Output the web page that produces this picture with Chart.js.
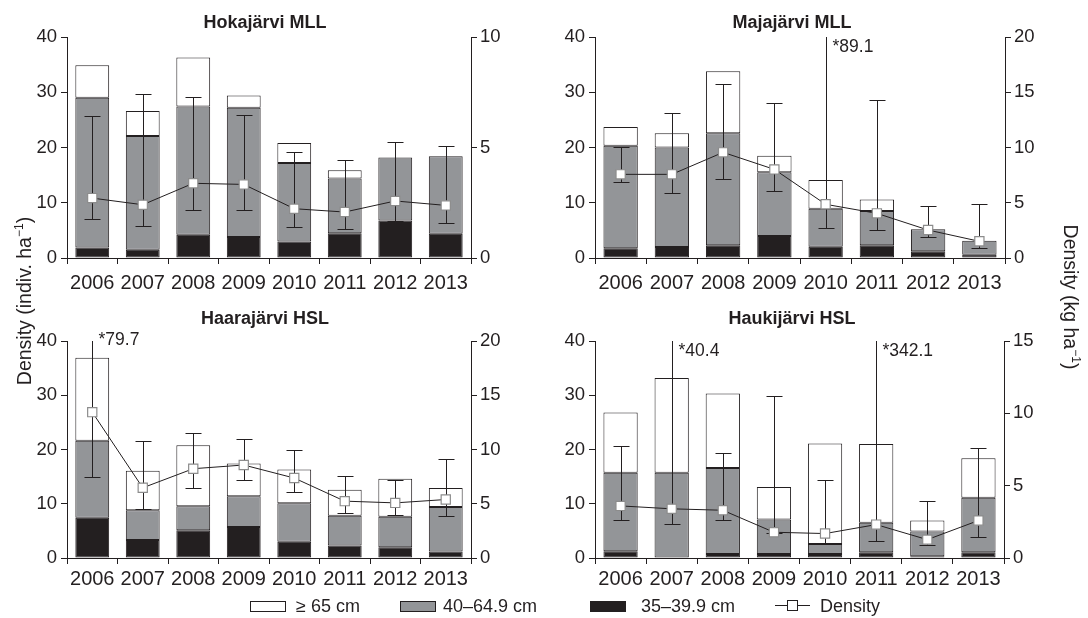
<!DOCTYPE html>
<html>
<head>
<meta charset="utf-8">
<script src="https://cdn.jsdelivr.net/npm/chart.js@4.4.1/dist/chart.umd.min.js"></script>
<style>
  body { margin: 0; background: #fff; }
  #wrap { position: relative; width: 1088px; height: 618px; overflow: hidden;
          font-family: 'Liberation Sans', Arial, sans-serif; color: #231f20; }
  canvas { position: absolute; }
  .title { position: absolute; font-weight: bold; font-size: 18px; transform: translate(-50%, -50%); white-space: nowrap; }
  .ytitle { position: absolute; font-size: 19.5px; white-space: nowrap; text-align: center; height: 24px; line-height: 24px; }
  .legend { position: absolute; top: 595px; font-size: 18px; height: 22px; line-height: 22px; white-space: nowrap; }
  .box { position: absolute; top: 6px; width: 34px; height: 9px; border: 1px solid #231f20; }
  .lg-line { position: absolute; top: 10px; width: 35px; height: 1px; background: #231f20; }
  .lg-pt { position: absolute; top: 5px; left: 12px; width: 9px; height: 9px; background: #fff; border: 1px solid #231f20; }
</style>
</head>
<body>
<div id="wrap">
  <canvas id="c1" width="544" height="300" style="left:0;top:0"></canvas>
  <canvas id="c2" width="544" height="300" style="left:544px;top:0"></canvas>
  <canvas id="c3" width="544" height="300" style="left:0;top:300px"></canvas>
  <canvas id="c4" width="544" height="300" style="left:544px;top:300px"></canvas>

  <div class="title" style="left:265px;top:22px">Hokajärvi MLL</div>
  <div class="title" style="left:792px;top:22px">Majajärvi MLL</div>
  <div class="title" style="left:265px;top:318px">Haarajärvi HSL</div>
  <div class="title" style="left:792px;top:318px">Haukijärvi HSL</div>

  <div class="ytitle" style="left:-81px;top:289px;width:200px;transform:rotate(-90deg)">Density (indiv. ha<sup style="font-size:12px">−1</sup>)</div>
  <div class="ytitle" style="left:976px;top:285px;width:200px;transform:rotate(90deg)">Density (kg ha<sup style="font-size:12px">−1</sup>)</div>

  <div class="legend" style="left:250px"><span class="box" style="left:0;background:#fff"></span><span style="margin-left:46px">≥ 65 cm</span></div>
  <div class="legend" style="left:400px"><span class="box" style="left:0;background:#939598"></span><span style="margin-left:43px">40–64.9 cm</span></div>
  <div class="legend" style="left:590px"><span class="box" style="left:0;background:#231f20"></span><span style="margin-left:51px">35–39.9 cm</span></div>
  <div class="legend" style="left:775px"><span class="lg-line"></span><span class="lg-pt"></span><span style="margin-left:45px">Density</span></div>
</div>

<script>
// === Data ===
const years = ['2006', '2007', '2008', '2009', '2010', '2011', '2012', '2013'];
const leftTicks = [0, 10, 20, 30, 40];

// Hokajärvi MLL
const hokaSmall = [1.9, 1.5, 4.2, 3.8, 3.0, 4.5, 6.8, 4.4];
const hokaMid = [27.1, 20.6, 23.2, 23.4, 14.2, 9.9, 11.4, 14.0];
const hokaLarge = [5.9, 4.5, 8.9, 2.2, 3.6, 1.5, 0, 0];
const hokaDens = [2.71, 2.41, 3.38, 3.33, 2.23, 2.08, 2.58, 2.38];
const hokaLow = [1.76, 1.46, 2.16, 2.19, 1.42, 1.31, 1.69, 1.58];
const hokaHigh = [6.44, 7.44, 7.30, 6.49, 4.81, 4.42, 5.26, 5.07];

// Majajärvi MLL
const majaSmall = [1.75, 2.0, 2.3, 4.0, 2.05, 2.3, 1.2, 0.6];
const majaMid = [18.55, 18.0, 20.3, 11.5, 6.85, 6.2, 4.0, 2.5];
const majaLarge = [3.4, 2.6, 11.2, 3.0, 5.2, 2.1, 0, 0];
const majaDens = [7.57, 7.57, 9.56, 8.02, 4.86, 4.04, 2.53, 1.51];
const majaLow = [6.9, 5.88, 7.18, 6.06, 2.75, 2.53, 1.87, 0.94];
const majaHigh = [10.08, 13.1, 15.78, 14.0, 89.1, 14.33, 4.74, 4.86];

// Haarajärvi HSL
const haaraSmall = [7.4, 3.3, 5.1, 5.7, 3.0, 2.3, 2.0, 1.2];
const haaraMid = [14.2, 5.5, 4.45, 5.7, 7.1, 5.5, 5.6, 8.2];
const haaraLarge = [15.3, 7.3, 11.25, 6.0, 6.2, 4.8, 7.0, 3.5];
const haaraDens = [13.44, 6.47, 8.23, 8.57, 7.37, 5.24, 5.08, 5.39];
const haaraLow = [7.49, 4.5, 6.47, 7.18, 6.04, 4.19, 4.0, 3.88];
const haaraHigh = [79.7, 10.82, 11.53, 10.94, 9.98, 7.58, 7.21, 9.12];

// Haukijärvi HSL
const haukiSmall = [1.23, 0, 0.74, 0.74, 0.74, 1.05, 0.3, 1.05];
const haukiMid = [14.47, 15.7, 15.86, 6.36, 1.86, 5.45, 4.6, 10.05];
const haukiLarge = [11.1, 17.5, 13.7, 6.0, 18.5, 14.5, 2.0, 7.3];
const haukiDens = [3.6, 3.4, 3.3, 1.78, 1.69, 2.31, 1.27, 2.59];
const haukiLow = [2.66, 2.36, 2.66, 1.7, 1.06, 1.18, 0.9, 1.43];
const haukiHigh = [7.72, 40.4, 7.28, 11.21, 5.41, 342.1, 3.93, 7.63];

const INK = '#231f20';
const GREY = '#939598';

Chart.defaults.font.family = "'Liberation Sans', Arial, sans-serif";
Chart.defaults.color = INK;

// error bars drawn just before the density line so the markers sit on top
const errorBars = {
    id: 'errorBars',
    beforeDatasetDraw(chart, args) {
        const ds = chart.data.datasets[args.index];
        if (!ds.errLow) return;
        const { ctx, chartArea } = chart;
        const xs = chart.scales.x;
        const ys = chart.scales.y1;
        ctx.save();
        ctx.strokeStyle = INK;
        ctx.fillStyle = INK;
        ctx.lineWidth = 1;
        ctx.font = "17.5px 'Liberation Sans', Arial, sans-serif";
        ctx.textBaseline = 'middle';
        ds.errLow.forEach((lo, i) => {
            const px = Math.round(xs.getPixelForValue(i)) + 0.5;
            const yLo = Math.round(ys.getPixelForValue(lo)) + 0.5;
            const rawHi = ys.getPixelForValue(ds.errHigh[i]);
            const clipped = rawHi < chartArea.top;
            const yHi = clipped ? chartArea.top : Math.round(rawHi) + 0.5;
            ctx.beginPath();
            ctx.moveTo(px, yLo);
            ctx.lineTo(px, yHi);
            ctx.moveTo(px - 8, yLo);
            ctx.lineTo(px + 8, yLo);
            if (!clipped) {
                ctx.moveTo(px - 8, yHi);
                ctx.lineTo(px + 8, yHi);
            }
            ctx.stroke();
            if (clipped) {
                ctx.fillText('*' + ds.errHigh[i], px + 6, chartArea.top + ds.noteDy);
            }
        });
        ctx.restore();
    }
};

function makePanel(id, p) {
    const barBase = {
        type: 'bar',
        borderColor: INK,
        borderWidth: 1,
        borderSkipped: false,
        categoryPercentage: 1,
        barPercentage: 0.67,
        order: 1
    };
    const axisGrid = { drawOnChartArea: false, drawTicks: true, tickLength: 6, color: INK, lineWidth: 1 };
    return new Chart(document.getElementById(id), {
        data: {
            labels: years,
            datasets: [
                { ...barBase, label: '35–39.9 cm', data: p.small, backgroundColor: INK },
                { ...barBase, label: '40–64.9 cm', data: p.mid, backgroundColor: GREY },
                { ...barBase, label: '≥ 65 cm', data: p.large, backgroundColor: '#ffffff' },
                {
                    type: 'line',
                    label: 'Density',
                    data: p.dens,
                    yAxisID: 'y1',
                    borderColor: INK,
                    borderWidth: 1,
                    pointStyle: 'rect',
                    pointRadius: 6.5,
                    pointBackgroundColor: '#ffffff',
                    pointBorderColor: '#8c8c8c',
                    pointBorderWidth: 1.2,
                    order: 0,
                    errLow: p.low,
                    errHigh: p.high,
                    noteDy: p.noteDy
                }
            ]
        },
        options: {
            responsive: false,
            animation: false,
            layout: { padding: { top: p.top, left: 0, right: 0, bottom: 0 } },
            plugins: { legend: { display: false }, tooltip: { enabled: false } },
            scales: {
                x: {
                    stacked: true,
                    grid: { ...axisGrid, offset: true },
                    border: { color: INK, width: 1 },
                    ticks: { font: { size: 20 }, padding: p.yearPad, maxRotation: 0 },
                    afterFit: s => { s.height = 42; }
                },
                y: {
                    stacked: true,
                    min: 0, max: 40,
                    afterBuildTicks: s => { s.ticks = leftTicks.map(v => ({ value: v })); },
                    grid: axisGrid,
                    border: { color: INK, width: 1 },
                    ticks: { font: { size: 18.5 }, padding: 4 },
                    afterFit: s => { s.width = p.left; }
                },
                y1: {
                    position: 'right',
                    min: 0, max: p.rightMax,
                    ticks: { stepSize: 5, font: { size: 18.5 }, padding: 3 },
                    grid: axisGrid,
                    border: { color: INK, width: 1 },
                    afterFit: s => { s.width = 544 - p.right; }
                }
            }
        },
        plugins: [errorBars]
    });
}

makePanel('c1', { small: hokaSmall, mid: hokaMid, large: hokaLarge, dens: hokaDens, low: hokaLow, high: hokaHigh,
    rightMax: 10, left: 67, right: 471, top: 37, noteDy: 10, yearPad: 7 });
makePanel('c2', { small: majaSmall, mid: majaMid, large: majaLarge, dens: majaDens, low: majaLow, high: majaHigh,
    rightMax: 20, left: 51, right: 461, top: 37, noteDy: 10, yearPad: 7 });
makePanel('c3', { small: haaraSmall, mid: haaraMid, large: haaraLarge, dens: haaraDens, low: haaraLow, high: haaraHigh,
    rightMax: 20, left: 67, right: 471, top: 41, noteDy: -1, yearPad: 3 });
makePanel('c4', { small: haukiSmall, mid: haukiMid, large: haukiLarge, dens: haukiDens, low: haukiLow, high: haukiHigh,
    rightMax: 15, left: 51, right: 460, top: 41, noteDy: 10, yearPad: 3 });
</script>
</body>
</html>
